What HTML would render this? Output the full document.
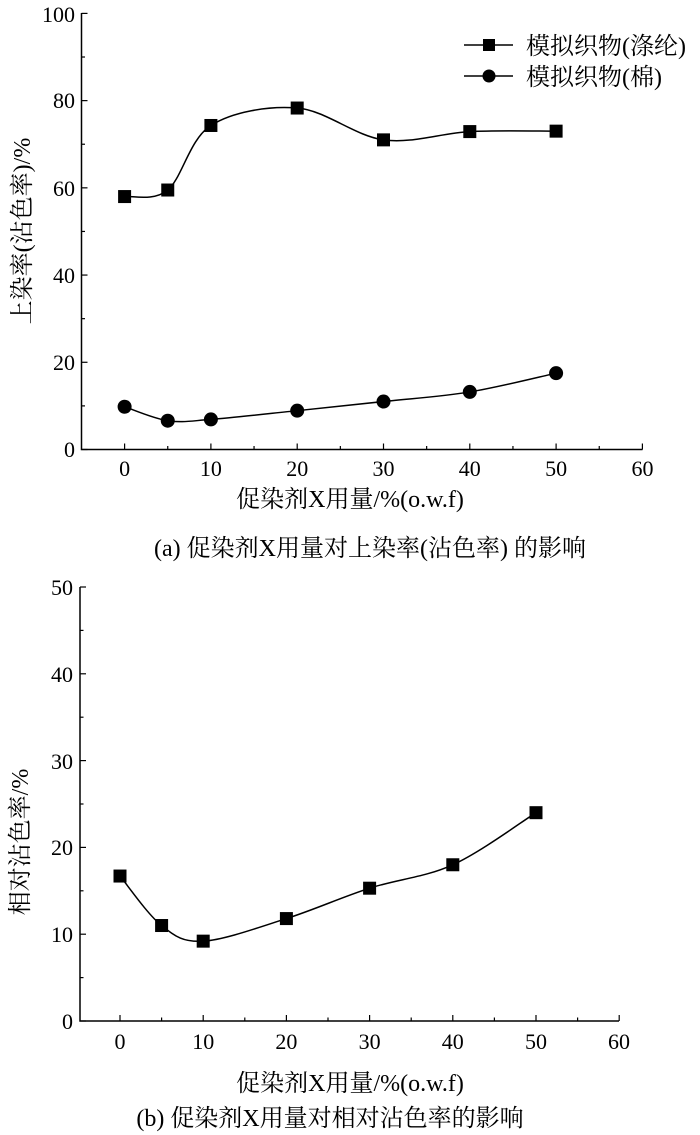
<!DOCTYPE html>
<html><head><meta charset="utf-8"><style>
body{margin:0;background:#fff;}
svg{display:block;font-family:"Liberation Serif","Noto Serif CJK SC","Noto Sans CJK SC",serif;}
</style></head><body>
<svg id="s" width="700" height="1135" viewBox="0 0 700 1135" xmlns="http://www.w3.org/2000/svg">
<g stroke="#000" stroke-width="1.5" fill="none">
<path d="M81.5 13 V449.5 H642.5"/>
<path d="M80 587 V1021 H619"/>
</g>
<g id="ticks" stroke="#000" stroke-width="1.2"></g>
<g id="curves" fill="none" stroke="#000" stroke-width="1.5"></g>
<g id="marks" fill="#000"></g>
<g font-size="22" text-anchor="end" fill="#000">
<text x="75" y="457">0</text><text x="75" y="370">20</text><text x="75" y="283">40</text><text x="75" y="196">60</text><text x="75" y="108">80</text><text x="75" y="22">100</text>
<text x="73" y="1029">0</text><text x="73" y="942">10</text><text x="73" y="855">20</text><text x="73" y="769">30</text><text x="73" y="682">40</text><text x="73" y="595">50</text>
</g>
<g font-size="22" text-anchor="middle" fill="#000">
<text x="124.6" y="476">0</text><text x="210.9" y="476">10</text><text x="297.2" y="476">20</text><text x="383.5" y="476">30</text><text x="469.8" y="476">40</text><text x="556.1" y="476">50</text><text x="642.5" y="476">60</text>
<text x="120" y="1049">0</text><text x="203.2" y="1049">10</text><text x="286.4" y="1049">20</text><text x="369.6" y="1049">30</text><text x="452.8" y="1049">40</text><text x="536" y="1049">50</text><text x="619" y="1049">60</text>
<text x="350" y="507" font-size="24">促染剂X用量/%(o.w.f)</text>
<text x="370" y="556" font-size="24">(a) 促染剂X用量对上染率(沾色率) 的影响</text>
<text x="350" y="1091" font-size="24">促染剂X用量/%(o.w.f)</text>
<text x="330" y="1126" font-size="24">(b) 促染剂X用量对相对沾色率的影响</text>
<text transform="translate(30,231) rotate(-90)" font-size="24">上染率(沾色率)/%</text>
<text transform="translate(28,842) rotate(-90)" font-size="24">相对沾色率/%</text>
</g>
<g fill="#000" font-size="24">
<path d="M464 45 H513 M464 76 H513" stroke="#000" stroke-width="1.5"/>
<rect x="483" y="39" width="12" height="12"/>
<circle cx="489" cy="76" r="6.5"/>
<text x="526" y="54">模拟织物(涤纶)</text>
<text x="526" y="85">模拟织物(棉)</text>
</g>
</svg>
<script>
var NS="http://www.w3.org/2000/svg";
function el(p,t,a){var e=document.createElementNS(NS,t);for(var k in a)e.setAttribute(k,a[k]);document.getElementById(p).appendChild(e);}
function cr(P){var d="M"+P[0][0]+" "+P[0][1];for(var i=0;i<P.length-1;i++){var p0=P[i-1]||P[i],p1=P[i],p2=P[i+1],p3=P[i+2]||P[i+1];
d+=" C"+(p1[0]+(p2[0]-p0[0])/6)+" "+(p1[1]+(p2[1]-p0[1])/6)+" "+(p2[0]-(p3[0]-p1[0])/6)+" "+(p2[1]-(p3[1]-p1[1])/6)+" "+p2[0]+" "+p2[1];}return d;}
var xs=[0,5,10,20,30,40,50];
function pts(X,Y,v){return xs.map(function(x,i){return [X(x),Y(v[i])];});}
var Xa=function(v){return 124.6+8.63*v},Ya=function(v){return 449.5-4.361*v};
var Xb=function(v){return 120+8.32*v},Yb=function(v){return 1021-8.68*v};
var A=pts(Xa,Ya,[58,59.5,74.3,78.3,71,72.9,73]),B=pts(Xa,Ya,[9.8,6.6,6.9,8.9,11,13.2,17.5]),C=pts(Xb,Yb,[16.7,11,9.2,11.8,15.3,18,24]);
[A,B,C].forEach(function(P){el("curves","path",{d:cr(P)});});
A.concat(C).forEach(function(p){el("marks","rect",{x:p[0]-6.5,y:p[1]-6.5,width:13,height:13});});
B.forEach(function(p){el("marks","circle",{cx:p[0],cy:p[1],r:7});});
for(var v=-5;v<=60;v+=5){if(v>-5){var x=Xa(v);el("ticks","line",{x1:x,x2:x,y1:449.5,y2:449.5-(v%10?3.5:6)});x=Xb(v);el("ticks","line",{x1:x,x2:x,y1:1021,y2:1021-(v%10?3.5:6)});}}
for(v=0;v<=100;v+=10){var y=Ya(v);el("ticks","line",{x1:81.5,x2:81.5+(v%20?3.5:6),y1:y,y2:y});}
for(v=0;v<=50;v+=5){y=Yb(v);el("ticks","line",{x1:80,x2:80+(v%10?3.5:6),y1:y,y2:y});}
</script>
</body></html>
